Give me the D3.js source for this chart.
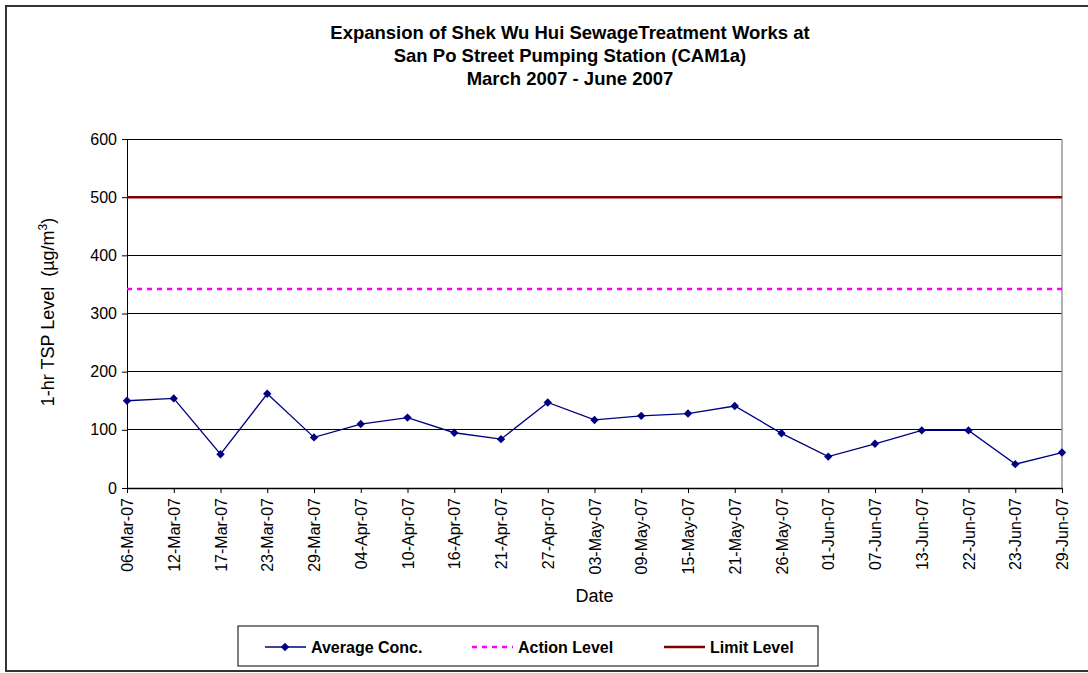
<!DOCTYPE html>
<html>
<head>
<meta charset="utf-8">
<script src="https://cdn.jsdelivr.net/npm/d3@7"></script>
<style>
  body { margin: 0; background: #fff; }
  svg { font-family: "Liberation Sans", Arial, sans-serif; }
</style>
</head>
<body>
<div id="chart"></div>
<script>
// chart data
const dates = ["06-Mar-07", "12-Mar-07", "17-Mar-07", "23-Mar-07", "29-Mar-07", "04-Apr-07", "10-Apr-07",
  "16-Apr-07", "21-Apr-07", "27-Apr-07", "03-May-07", "09-May-07", "15-May-07", "21-May-07", "26-May-07",
  "01-Jun-07", "07-Jun-07", "13-Jun-07", "22-Jun-07", "23-Jun-07", "29-Jun-07"];
const avgConc = [150, 154, 58, 162, 87, 110, 121, 95, 84, 147, 117, 124, 128, 141, 94, 54, 76, 99, 99, 41, 61];
const actionLevel = 342;
const limitLevel = 500;
const yTicks = [0, 100, 200, 300, 400, 500, 600];
const titleLines = ["Expansion of Shek Wu Hui SewageTreatment Works at",
  "San Po Street Pumping Station (CAM1a)", "March 2007 - June 2007"];

const W = 1088, H = 673;
const margin = { top: 139, right: 26, bottom: 185, left: 127 },
    width = W - margin.left - margin.right,
    height = H - margin.top - margin.bottom;

const svg = d3.select("#chart").append("svg")
    .attr("width", W)
    .attr("height", H);

// outer frame
svg.append("rect")
    .attr("x", 6).attr("y", 6)
    .attr("width", W + 10).attr("height", H - 8)
    .attr("fill", "none").attr("stroke", "#333").attr("stroke-width", 2);

// title
svg.append("g").selectAll("text")
    .data(titleLines)
    .enter().append("text")
    .attr("x", 570)
    .attr("y", (d, i) => 39 + i * 23)
    .attr("text-anchor", "middle")
    .style("font-size", "18.5px")
    .style("font-weight", "bold")
    .text(d => d);

const g = svg.append("g")
    .attr("transform", "translate(" + margin.left + "," + margin.top + ")");

const x = d3.scalePoint().domain(dates).range([0, width]);
const y = d3.scaleLinear().domain([0, 600]).range([height, 0]);

// grid lines
g.append("g").selectAll("line")
    .data(yTicks.filter(d => d > 0))
    .enter().append("line")
    .attr("x1", 0).attr("x2", width)
    .attr("y1", d => y(d)).attr("y2", d => y(d))
    .attr("stroke", "#000").attr("stroke-width", 1)
    .attr("shape-rendering", "crispEdges");

// right border of plot
g.append("line")
    .attr("x1", width).attr("x2", width)
    .attr("y1", 0).attr("y2", height)
    .attr("stroke", "#999").attr("stroke-width", 1.5);

// Y axis
const yAxis = g.append("g")
    .call(d3.axisLeft(y).tickValues(yTicks).tickSize(5).tickSizeOuter(0));
yAxis.select(".domain").attr("stroke", "#000");
yAxis.selectAll("text").style("font-size", "16px").attr("fill", "#000").attr("dx", "-2");

// X axis
const xAxis = g.append("g")
    .attr("transform", "translate(0," + height + ")")
    .call(d3.axisBottom(x).tickSize(5).tickSizeOuter(0));
xAxis.select(".domain").attr("stroke", "#000").attr("stroke-width", 1.5);
xAxis.selectAll("text")
    .style("font-size", "16px")
    .attr("fill", "#000")
    .attr("text-anchor", "end")
    .attr("transform", "rotate(-90)")
    .attr("x", -10)
    .attr("y", 0)
    .attr("dy", "0.35em");

// axis titles
const yTitle = g.append("text")
    .attr("transform", "rotate(-90)")
    .attr("x", -173)
    .attr("y", -73)
    .attr("text-anchor", "middle")
    .attr("xml:space", "preserve")
    .style("white-space", "pre")
    .style("font-size", "18px");
yTitle.append("tspan").text("1-hr TSP Level  (µg/m");
yTitle.append("tspan").attr("baseline-shift", "super").style("font-size", "12px").text("3");
yTitle.append("tspan").text(")");

g.append("text")
    .attr("x", width / 2)
    .attr("y", height + 114)
    .attr("text-anchor", "middle")
    .style("font-size", "18px")
    .text("Date");

// limit level
g.append("line")
    .attr("x1", 0).attr("x2", width)
    .attr("y1", y(limitLevel)).attr("y2", y(limitLevel))
    .attr("stroke", "#800000").attr("stroke-width", 2.5);

// action level
g.append("line")
    .attr("x1", 0).attr("x2", width)
    .attr("y1", y(actionLevel)).attr("y2", y(actionLevel))
    .attr("stroke", "#FF00FF").attr("stroke-width", 2.5)
    .attr("stroke-dasharray", "5 5");

// average line
const valueline = d3.line()
    .x((d, i) => x(dates[i]))
    .y(d => y(d));
g.append("path")
    .datum(avgConc)
    .attr("fill", "none")
    .attr("stroke", "#000080")
    .attr("stroke-width", 1.3)
    .attr("d", valueline);

const diamond = d3.symbol().type(d3.symbolDiamond2).size(45);
g.append("g").selectAll("path")
    .data(avgConc)
    .enter().append("path")
    .attr("d", diamond)
    .attr("transform", (d, i) => "translate(" + x(dates[i]) + "," + y(d) + ")")
    .attr("fill", "#000080");

// legend
const legend = svg.append("g");
legend.append("rect")
    .attr("x", 238).attr("y", 626)
    .attr("width", 580).attr("height", 40)
    .attr("fill", "#fff").attr("stroke", "#000").attr("stroke-width", 1);

const legendItems = [
  { label: "Average Conc.", x: 265, type: "avg" },
  { label: "Action Level", x: 472, type: "action" },
  { label: "Limit Level", x: 664, type: "limit" }
];
const ly = 647;
legendItems.forEach(it => {
  const line = legend.append("line")
      .attr("x1", it.x).attr("x2", it.x + 41)
      .attr("y1", ly).attr("y2", ly);
  if (it.type === "avg") {
    line.attr("stroke", "#000080").attr("stroke-width", 1.3);
    legend.append("path").attr("d", diamond)
        .attr("transform", "translate(" + (it.x + 20) + "," + ly + ")")
        .attr("fill", "#000080");
  } else if (it.type === "action") {
    line.attr("stroke", "#FF00FF").attr("stroke-width", 2.5).attr("stroke-dasharray", "5 5");
  } else {
    line.attr("stroke", "#800000").attr("stroke-width", 2.5);
  }
  legend.append("text")
      .attr("x", it.x + 46).attr("y", ly + 6)
      .style("font-size", "16px").style("font-weight", "bold")
      .text(it.label);
});
</script>
</body>
</html>
